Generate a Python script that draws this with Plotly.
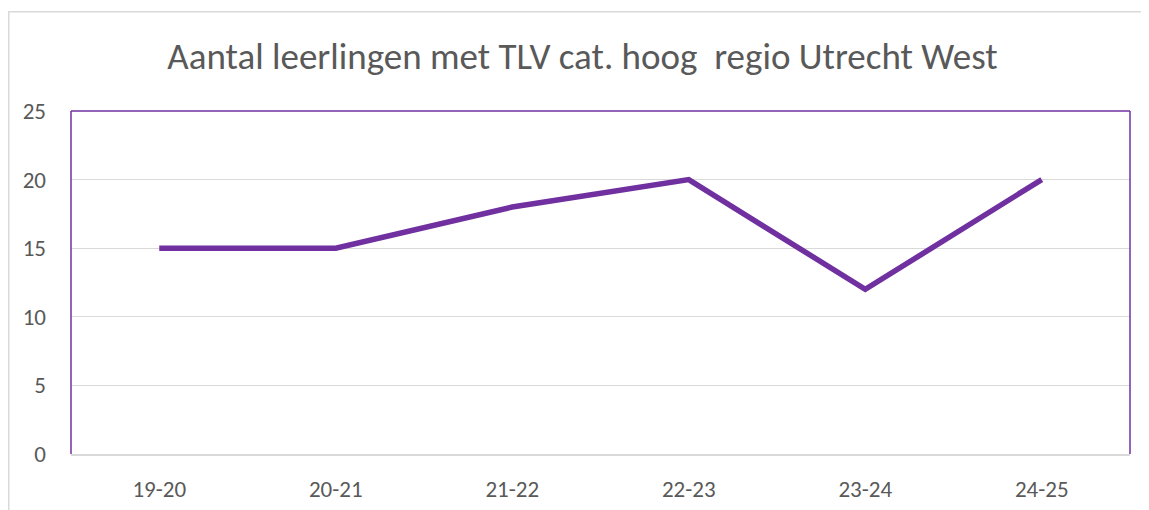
import plotly.graph_objects as go

categories = ["19-20", "20-21", "21-22", "22-23", "23-24", "24-25"]
values = [15, 15, 18, 20, 12, 20]
y_ticks = [0, 5, 10, 15, 20, 25]

title_text = "Aantal leerlingen met TLV cat. hoog  regio Utrecht West"
purple = "#7030A0"
grey_text = "#595959"
font_family = "Carlito, Calibri, Lato, sans-serif"

fig = go.Figure()
fig.add_trace(go.Scatter(
    x=categories, y=values, mode="lines",
    line=dict(color=purple, width=5.5),
    hoverinfo="x+y", showlegend=False,
))

# page body has an 8px default margin, so the figure is sized/offset to compensate
fig.update_layout(
    width=1141, height=502,
    margin=dict(l=63, r=19, t=103, b=56, autoexpand=False),
    paper_bgcolor="white", plot_bgcolor="white",
    title=dict(text=title_text, x=0.5035, xanchor="center", y=0.905, yanchor="middle",
               font=dict(family=font_family, size=37, color=grey_text),
               automargin=False),
    font=dict(family=font_family, color=grey_text),
    xaxis=dict(type="category", range=[-0.5, 5.5], showgrid=False, zeroline=False,
               showline=True, linecolor="#D9D9D9", linewidth=1.5, automargin=False,
               ticks="", tickfont=dict(size=23, color=grey_text), ticklabelstandoff=14),
    yaxis=dict(range=[0, 25], tickvals=y_ticks, showgrid=True, gridcolor="#D9D9D9",
               gridwidth=1, zeroline=False, showline=False, ticks="", automargin=False,
               tickfont=dict(size=23, color=grey_text), ticklabelstandoff=24),
    shapes=[
        # outer chart frame
        dict(type="rect", xref="paper", yref="paper", x0=-0.0588, x1=1.05, y0=-0.3, y1=1.289,
             line=dict(color="#D9D9D9", width=1.5), fillcolor="rgba(0,0,0,0)", layer="below"),
        # purple plot-area border (left, top, right)
        dict(type="line", xref="paper", yref="paper", x0=0, x1=0, y0=0, y1=1,
             line=dict(color=purple, width=1.5)),
        dict(type="line", xref="paper", yref="paper", x0=0, x1=1, y0=1, y1=1,
             line=dict(color=purple, width=1.5)),
        dict(type="line", xref="paper", yref="paper", x0=1, x1=1, y0=0, y1=1,
             line=dict(color=purple, width=1.5)),
    ],
)

fig.write_html("out.html")
